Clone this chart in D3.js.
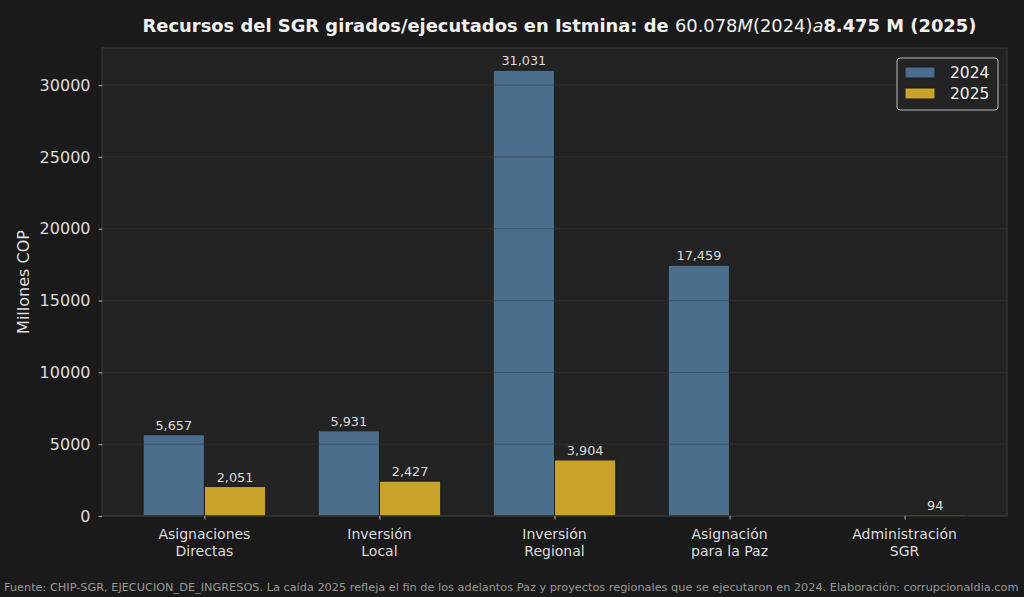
<!DOCTYPE html>
<html><head><meta charset="utf-8">
<script src="https://cdn.jsdelivr.net/npm/d3@7"></script>
<style>html,body{margin:0;padding:0;background:#1a1a1a;}svg{display:block;font-family:"DejaVu Sans",sans-serif;}</style>
</head><body>
<script>
const categories = [["Asignaciones","Directas"],["Inversión","Local"],["Inversión","Regional"],["Asignación","para la Paz"],["Administración","SGR"]];
const series = ["2024","2025"];
const values2024 = [5657, 5931, 31031, 17459, 0];
const values2025 = [2051, 2427, 3904, 0, 94];
const yTicks = [0, 5000, 10000, 15000, 20000, 25000, 30000];
const colors = {"2024":"#4a6e8b","2025":"#c9a229"};

const W = 1024, H = 597;
const m = {l:102, r:1007, t:48, b:516};
const svg = d3.select("body").append("svg").attr("width",W).attr("height",H);
svg.append("rect").attr("width",W).attr("height",H).attr("fill","#1a1a1a");
svg.append("rect").attr("x",m.l).attr("y",m.t).attr("width",m.r-m.l).attr("height",m.b-m.t).attr("fill","#232323");

const n = categories.length, bw = 0.35;
const lo = -bw, hi = (n-1)+bw, pad = (hi-lo)*0.05;
const x = d3.scaleLinear().domain([lo-pad, hi+pad]).range([m.l, m.r]);
const ymax = d3.max(values2024.concat(values2025))*1.05;
const y = d3.scaleLinear().domain([0, ymax]).range([m.b, m.t]);

const data = [];
categories.forEach((c,i)=>{
  data.push({i, s:"2024", v:values2024[i], off:-bw/2});
  data.push({i, s:"2025", v:values2025[i], off:bw/2});
});

svg.append("g").selectAll("rect").data(data).join("rect")
  .attr("x", d=>x(d.i+d.off-bw/2))
  .attr("width", d=>x(bw)-x(0))
  .attr("y", d=>y(d.v))
  .attr("height", d=>y(0)-y(d.v))
  .attr("fill", d=>colors[d.s])
  .attr("stroke","#1c1c1c").attr("stroke-width",1);

// grid on top
svg.append("g").selectAll("line").data(yTicks).join("line")
  .attr("x1",m.l).attr("x2",m.r).attr("y1",d=>y(d)).attr("y2",d=>y(d))
  .attr("stroke","#3a3a3a").attr("stroke-opacity",0.55).attr("stroke-width",1);

// frame
svg.append("rect").attr("x",m.l).attr("y",m.t).attr("width",m.r-m.l).attr("height",m.b-m.t)
  .attr("fill","none").attr("stroke","#3a3a3a").attr("stroke-width",1);

// value labels
svg.append("g").selectAll("text").data(data.filter(d=>d.v>0)).join("text")
  .attr("x", d=>x(d.i+d.off)).attr("y", d=>y(d.v)-5)
  .attr("text-anchor","middle").attr("fill","#dddddd").attr("font-size",12.8)
  .text(d=>d3.format(",")(d.v));

// y axis
const ya = svg.append("g").attr("transform",`translate(${m.l},0)`)
  .call(d3.axisLeft(y).tickValues(yTicks).tickSize(3.5).tickPadding(8).tickFormat(d3.format("d")));
ya.select(".domain").remove();
ya.selectAll("line").attr("stroke","#bbbbbb");
ya.selectAll("text").attr("fill","#dddddd").attr("font-size",16).attr("font-family","DejaVu Sans");

// x axis
const xa = svg.append("g").attr("transform",`translate(0,${m.b})`)
  .call(d3.axisBottom(x).tickValues(d3.range(n)).tickSize(3.5).tickFormat(""));
xa.select(".domain").remove();
xa.selectAll("line").attr("stroke","#bbbbbb");
const xl = svg.append("g");
categories.forEach((c,i)=>{
  const t = xl.append("text").attr("x",x(i)).attr("y",539).attr("text-anchor","middle")
    .attr("fill","#dddddd").attr("font-size",14);
  c.forEach((line,k)=>t.append("tspan").attr("x",x(i)).attr("dy",k?16.5:0).text(line));
});

// y label
svg.append("text").attr("transform",`translate(29,${(m.t+m.b)/2}) rotate(-90)`)
  .attr("text-anchor","middle").attr("fill","#dddddd").attr("font-size",16).text("Millones COP");

// title
const tt = svg.append("text").attr("x",(m.l+m.r)/2+5).attr("y",32).attr("text-anchor","middle")
  .attr("fill","#f0f0f0").attr("font-size",17.9);
tt.append("tspan").attr("font-weight","bold").text("Recursos del SGR girados/ejecutados en Istmina: de ");
tt.append("tspan").text("60.078");
tt.append("tspan").attr("font-style","italic").text("M");
tt.append("tspan").text("(2024)");
tt.append("tspan").attr("font-style","italic").text("a");
tt.append("tspan").attr("font-weight","bold").text("8.475 M (2025)");

// legend
const lg = svg.append("g").attr("transform","translate(897,58)");
lg.append("rect").attr("width",101).attr("height",52).attr("rx",3)
  .attr("fill","#232323").attr("stroke","#bbbbbb").attr("stroke-width",1);
series.forEach((s,k)=>{
  lg.append("rect").attr("x",8).attr("y",9+k*21).attr("width",30).attr("height",11)
    .attr("fill",colors[s]).attr("stroke","#1c1c1c");
  lg.append("text").attr("x",53).attr("y",20+k*21).attr("fill","#eeeeee").attr("font-size",15.5).text(s);
});

// footer
svg.append("text").attr("x",4).attr("y",591).attr("fill","#999999").attr("font-size",11.3)
  .text("Fuente: CHIP-SGR, EJECUCION_DE_INGRESOS. La caída 2025 refleja el fin de los adelantos Paz y proyectos regionales que se ejecutaron en 2024. Elaboración: corrupcionaldia.com");
</script>
</body></html>
